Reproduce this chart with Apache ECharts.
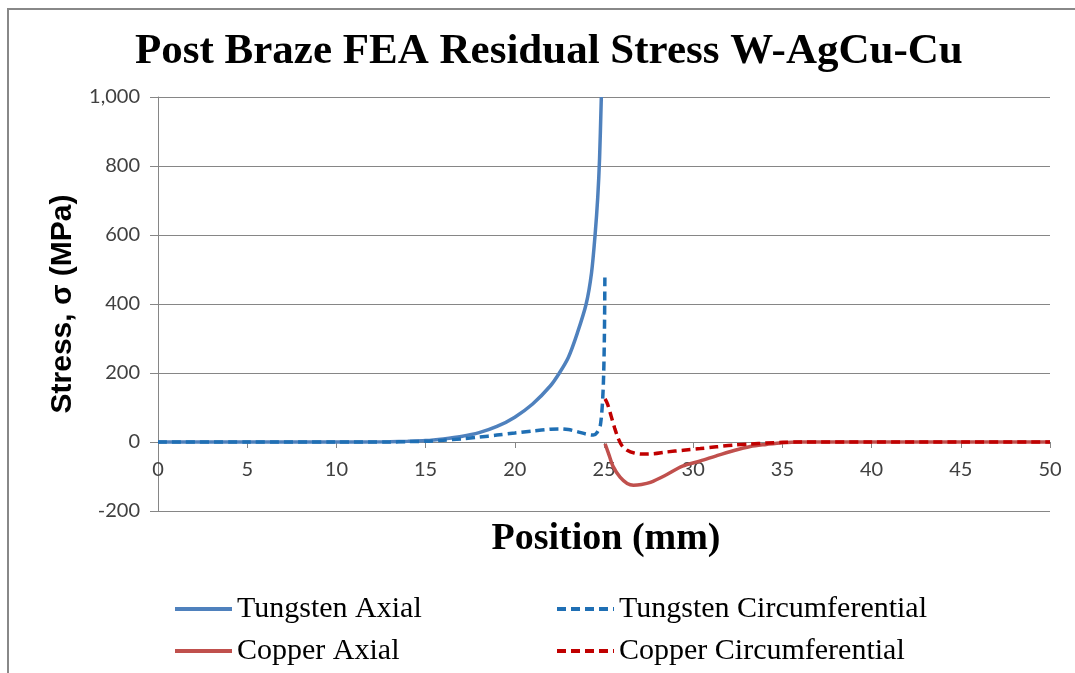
<!DOCTYPE html>
<html>
<head>
<meta charset="utf-8">
<script src="https://cdn.jsdelivr.net/npm/echarts@6/dist/echarts.min.js"></script>
<style>
  html, body { margin: 0; padding: 0; background: #fff; }
  #chart { width: 1075px; height: 673px; }
</style>
</head>
<body>
<div id="chart"></div>
<script>
// position (mm) and stress (MPa)
const tungstenAxialX = [0, 5, 10, 13, 14, 15, 16, 17, 18, 19, 20, 21, 22, 22.5, 23, 23.5, 24, 24.3, 24.5, 24.65, 24.75, 24.85]
const tungstenAxialY = [0, 0, 0, 1, 2, 4, 9, 16, 27, 45, 72, 110, 163, 200, 245, 315, 400, 490, 600, 710, 820, 1000]

const tungstenCircX = [0, 5, 10, 13, 14, 15, 16, 17, 18, 19, 20, 21, 22, 22.5, 23, 23.5, 24, 24.4, 24.6, 24.8, 24.95, 25.02, 25.05]
const tungstenCircY = [0, 0, 0, 0, 1, 2, 5, 9, 14, 20, 26, 32, 37, 38, 36, 30, 23, 20, 27, 50, 150, 300, 485]

const copperAxialX = [25.06, 25.3, 25.5, 25.9, 26.3, 26.65, 27.1, 27.6, 28.5, 29.4, 30.4, 31.3, 32.2, 33.2, 34.1, 35, 36, 38, 40, 45, 50]
const copperAxialY = [-5, -40, -70, -102, -120, -125, -123, -117, -95, -70, -55, -40, -26, -13, -7, -2, 0, 0, 0, 0, 0]

const copperCircX = [25.06, 25.2, 25.4, 25.6, 25.8, 26.0, 26.3, 26.7, 27.2, 27.8, 28.5, 29.45, 30.4, 31.3, 32.25, 33.2, 34.1, 35, 36, 40, 45, 50]
const copperCircY = [125, 110, 75, 40, 10, -10, -24, -32, -35, -34, -29, -24, -19, -14, -9, -6, -3, -1, 0, 0, 0, 0]

const seriesNames = ['Tungsten Axial', 'Tungsten Circumferential', 'Copper Axial', 'Copper Circumferential']

const pairs = (xs, ys) => xs.map((x, i) => [x, ys[i]])

const chart = echarts.init(document.getElementById('chart'))

const lineSeries = (name, data, color, dashed) => ({
  name: name,
  type: 'line',
  data: data,
  symbol: 'none',
  smooth: 0.3,
  lineStyle: {
    color: color,
    width: 3.5,
    type: dashed ? [9, 5] : 'solid'
  },
  itemStyle: { color: color }
})

const legendText = { fontFamily: 'Liberation Serif', fontSize: 30, color: '#000' }

const legendAt = (name, left, top) => ({
  data: [name],
  left: left,
  top: top,
  itemWidth: 57,
  itemHeight: 14,
  itemGap: 0,
  textStyle: legendText,
  itemStyle: { opacity: 0 },
  lineStyle: { width: 4 },
  selectedMode: false
})

const option = {
  animation: false,
  backgroundColor: '#fff',
  title: {
    text: 'Post Braze FEA Residual Stress W-AgCu-Cu',
    left: 130,
    top: 25,
    textStyle: {
      fontFamily: 'Liberation Serif',
      fontWeight: 'bold',
      fontSize: 43,
      color: '#000'
    }
  },
  graphic: [{
    type: 'rect',
    shape: { x: 8, y: 9, width: 1100, height: 700 },
    style: { fill: 'none', stroke: '#888', lineWidth: 2 },
    silent: true
  }],
  legend: [
    legendAt(seriesNames[0], 168, 589),
    legendAt(seriesNames[1], 550, 589),
    legendAt(seriesNames[2], 168, 631),
    legendAt(seriesNames[3], 550, 631)
  ],
  grid: { left: 158, right: 25, top: 97, bottom: 162 },
  xAxis: {
    type: 'value',
    min: 0,
    max: 50,
    interval: 5,
    offset: -69,
    name: 'Position (mm)',
    nameLocation: 'middle',
    nameGap: 78,
    nameTextStyle: { fontFamily: 'Liberation Serif', fontWeight: 'bold', fontSize: 38, color: '#000', padding: [0, 0, 0, 4] },
    axisLine: { onZero: false, lineStyle: { color: '#868686', width: 1 } },
    axisTick: { show: true, length: 6, lineStyle: { color: '#868686' } },
    axisLabel: { fontFamily: 'Lato', fontSize: 20, color: '#404040', margin: 18 },
    splitLine: { show: false }
  },
  yAxis: {
    type: 'value',
    min: -200,
    max: 1000,
    interval: 200,
    name: 'Stress, σ (MPa)',
    nameLocation: 'middle',
    nameGap: 79,
    nameRotate: 90,
    nameTextStyle: { fontFamily: 'Liberation Sans', fontWeight: 'bold', fontSize: 30, color: '#000' },
    axisLine: { show: true, lineStyle: { color: '#868686', width: 1 } },
    axisTick: { show: true, length: 8, lineStyle: { color: '#868686' } },
    axisLabel: {
      fontFamily: 'Lato',
      fontSize: 20,
      color: '#404040',
      margin: 18,
      formatter: v => v.toLocaleString('en-US')
    },
    splitLine: { show: true, lineStyle: { color: '#868686', width: 1 } }
  },
  series: [
    lineSeries(seriesNames[0], pairs(tungstenAxialX, tungstenAxialY), '#4F81BD', false),
    lineSeries(seriesNames[1], pairs(tungstenCircX, tungstenCircY), '#1F6FB4', true),
    lineSeries(seriesNames[2], pairs(copperAxialX, copperAxialY), '#C0504D', false),
    lineSeries(seriesNames[3], pairs(copperCircX, copperCircY), '#C00000', true)
  ]
}

chart.setOption(option)
</script>
</body>
</html>
